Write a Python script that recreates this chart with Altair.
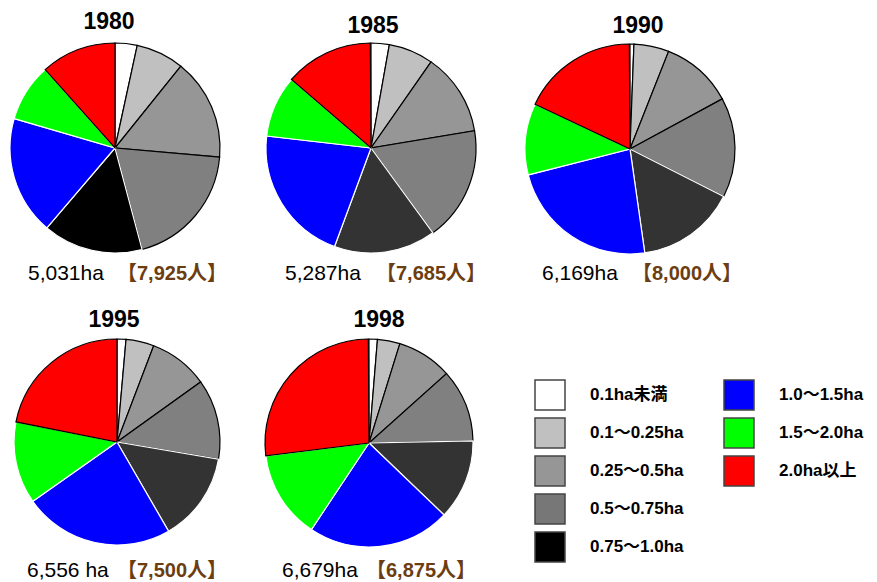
import altair as alt
import pandas as pd

# ---- data ----
classes = ["0.1ha未満", "0.1〜0.25ha", "0.25〜0.5ha", "0.5〜0.75ha",
           "0.75〜1.0ha", "1.0〜1.5ha", "1.5〜2.0ha", "2.0ha以上"]
years = ["1980", "1985", "1990", "1995", "1998"]
share_1980 = [3.4, 7.4, 15.6, 19.5, 15.4, 18.3, 8.9, 11.6]
share_1985 = [2.8, 6.9, 12.7, 17.6, 15.7, 21.2, 9.5, 13.6]
share_1990 = [0.6, 5.4, 11.1, 15.4, 15.3, 23.3, 11.0, 17.9]
share_1995 = [1.4, 4.4, 9.3, 12.6, 14.0, 23.6, 12.9, 21.9]
share_1998 = [1.3, 3.5, 8.6, 11.3, 12.5, 22.2, 13.7, 26.9]
areas = ["5,031ha", "5,287ha", "6,169ha", "6,556 ha", "6,679ha"]
farmers = ["【7,925人】", "【7,685人】", "【8,000人】", "【7,500人】", "【6,875人】"]

# ---- styles ----
legend_colors = ["#ffffff", "#c0c0c0", "#969696", "#777777",
                 "#000000", "#0000ff", "#00ff00", "#ff0000"]
pie_colors_1980 = ["#ffffff", "#c0c0c0", "#969696", "#808080",
                   "#000000", "#0000ff", "#00ff00", "#ff0000"]
pie_colors_later = ["#ffffff", "#c0c0c0", "#969696", "#808080",
                    "#333333", "#0000ff", "#00ff00", "#ff0000"]
slice_edges = ["#000000", "#000000", "#000000", "#000000",
               "#ffffff", "#ffffff", "#ffffff", "#000000"]
FONT = "Liberation Sans, Arial, Noto Sans CJK JP, sans-serif"
BROWN = "#6b3d10"


def text_layer(txt, x, y, size, bold, color="#000000", align="left"):
    return alt.Chart(pd.DataFrame({"t": [txt]})).mark_text(
        font=FONT, fontSize=size, fontWeight="bold" if bold else "normal",
        color=color, align=align, baseline="alphabetic"
    ).encode(text="t:N", x=alt.value(x), y=alt.value(y))


def pie_group(idx, shares, fills, cx, cy, r, tx, ty, ax, bx, ly):
    df = pd.DataFrame({
        "class": classes,
        "order": list(range(len(classes))),
        "share": shares,
        "fill": fills,
        "edge": slice_edges,
    })
    arc = alt.Chart(df).mark_arc(radius=r, strokeWidth=1.2).encode(
        theta=alt.Theta("share:Q", stack=True),
        order=alt.Order("order:Q"),
        fill=alt.Fill("fill:N", scale=None),
        stroke=alt.Stroke("edge:N", scale=None),
        x=alt.value(cx),
        y=alt.value(cy),
    )
    title = text_layer(years[idx], tx, ty, 23, True, align="center")
    area = text_layer(areas[idx], ax, ly, 21, False)
    people = text_layer(farmers[idx], bx, ly, 20, True, color=BROWN)
    return [arc, title, area, people]


layers = []
layers += pie_group(0, share_1980, pie_colors_1980, 107, 140, 105, 101, 21, 20, 109, 272)
layers += pie_group(1, share_1985, pie_colors_later, 363, 140, 105, 365, 25, 277, 368, 272)
layers += pie_group(2, share_1990, pie_colors_later, 622, 141, 105, 630, 25, 534, 624, 272)
layers += pie_group(3, share_1995, pie_colors_later, 109, 434, 103, 106, 319, 19, 109, 569)
layers += pie_group(4, share_1998, pie_colors_later, 361, 435, 104, 371, 319, 274, 358, 569)

ldf = pd.DataFrame({"class": classes, "color": legend_colors,
                    "i": list(range(len(classes)))})
lbase = alt.Chart(ldf).transform_calculate(
    col="floor(datum.i / 5)", row="datum.i % 5"
)
lx = alt.X("col:Q", scale=alt.Scale(domain=[0, 1], range=[542, 731]), axis=None)
ly = alt.Y("row:Q", scale=alt.Scale(domain=[0, 4], range=[387, 539]), axis=None)
squares = lbase.mark_square(size=900, stroke="#444444", strokeWidth=1.5,
                            opacity=1).encode(
    x=lx, y=ly, fill=alt.Fill("color:N", scale=None)
)
labels = lbase.mark_text(align="left", baseline="middle", dx=40, font=FONT,
                         fontSize=17, fontWeight="bold", color="#000000").encode(
    x=lx, y=ly, text="class:N"
)
layers += [squares, labels]

chart = alt.layer(*layers).properties(
    width=861, height=574, padding=0,
    autosize=alt.AutoSizeParams(type="none"),
).configure_view(stroke=None)

chart.save("out.html", embed_options={"renderer": "svg", "actions": False})
